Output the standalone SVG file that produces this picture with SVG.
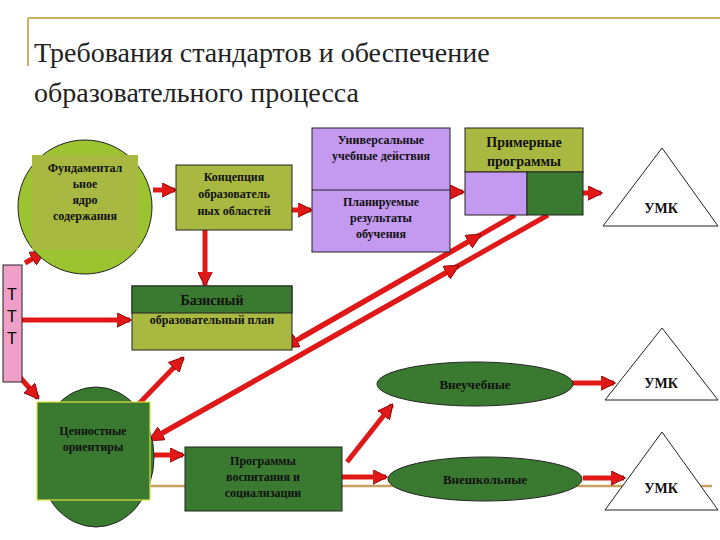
<svg xmlns="http://www.w3.org/2000/svg" width="720" height="540" viewBox="0 0 720 540">
<defs>
<marker id="ah" viewBox="0 0 10 10" refX="9" refY="5" markerWidth="3" markerHeight="3" orient="auto" markerUnits="strokeWidth"><path d="M0,0 L10,5 L0,10 z" fill="#e01818" stroke="#8a0000" stroke-width="0.6"/></marker>
</defs>
<style>
.a{stroke:#e01818;stroke-width:5;fill:none;marker-end:url(#ah)}
.t{font-family:'Liberation Serif','DejaVu Serif',serif;font-weight:bold;font-size:12px;fill:#111;text-anchor:middle}
.h{font-family:'Liberation Serif','DejaVu Serif',serif;font-size:28px;fill:#222}
.b{stroke:#222;stroke-width:1}
</style>
<rect width="720" height="540" fill="#fff"/>
<g id="frame" stroke="#c8b060" stroke-width="2" fill="none">
<line x1="28" y1="18" x2="720" y2="18"/><line x1="28" y1="18" x2="28" y2="66"/>
<line x1="135" y1="486" x2="712" y2="486" stroke="#c8a060" stroke-width="2.5"/>
</g>
<g id="title"><text class="h" x="34" y="62">Требования стандартов и обеспечение</text><text class="h" x="34" y="102">образовательного процесса</text></g>
<g id="connectors">
<line class="a" x1="153" y1="190" x2="175" y2="190"/>
<line class="a" x1="292" y1="210" x2="311" y2="210"/>
<line class="a" x1="205" y1="230" x2="205" y2="285"/>
<line class="a" x1="437" y1="192" x2="463" y2="192"/>
<line class="a" x1="583" y1="193" x2="601" y2="193"/>
<line class="a" x1="25" y1="263" x2="44" y2="252"/>
<line class="a" x1="22" y1="320" x2="130" y2="320"/>
<line class="a" x1="18" y1="375" x2="38" y2="398"/>
<line class="a" x1="515" y1="215" x2="285" y2="347"/>
<line class="a" x1="300" y1="338" x2="480" y2="235"/>
<line class="a" x1="548" y1="215" x2="150" y2="440"/>
<line class="a" x1="150" y1="440" x2="458" y2="266"/>
<line class="a" x1="130" y1="413" x2="183" y2="358"/>
<line class="a" x1="152" y1="455" x2="183" y2="455"/>
<line class="a" x1="347" y1="462" x2="392" y2="405"/>
<line class="a" x1="342" y1="477" x2="386" y2="477"/>
<line class="a" x1="572" y1="383" x2="614" y2="383"/>
<line class="a" x1="583" y1="478" x2="624" y2="478"/>
</g>
<g id="fund"><circle cx="85" cy="207" r="67" fill="#9bc430" class="b"/><rect x="32" y="155" width="106" height="95" fill="#a8b840"/>
<text class="t" x="85" y="172">Фундаментал</text><text class="t" x="85" y="188">ьное</text><text class="t" x="85" y="204">ядро</text><text class="t" x="85" y="220">содержания</text></g>
<g id="konc"><rect x="176" y="165" width="116" height="65" fill="#a8b840" class="b"/>
<text class="t" x="234" y="181">Концепция</text><text class="t" x="234" y="198">образователь</text><text class="t" x="234" y="215">ных областей</text></g>
<g id="uud"><rect x="312" y="128" width="138" height="124" fill="#c49af0" class="b"/><line x1="312" y1="190" x2="450" y2="190" class="b"/>
<text class="t" x="381" y="144">Универсальные</text><text class="t" x="381" y="160">учебные действия</text>
<text class="t" x="381" y="206">Планируемые</text><text class="t" x="381" y="222">результаты</text><text class="t" x="381" y="238">обучения</text></g>
<g id="prim"><rect x="465" y="128" width="118" height="44" fill="#a8b840" class="b"/><rect x="465" y="172" width="62" height="43" fill="#c49af0" class="b"/><rect x="527" y="172" width="56" height="43" fill="#3a7a30" class="b"/>
<text class="t" x="524" y="147" style="font-size:14px">Примерные</text><text class="t" x="524" y="166" style="font-size:14px">программы</text></g>
<g id="umk1"><polygon points="662,148 603,226 718,226" fill="#fff" class="b"/><text class="t" x="661" y="213" style="font-size:14px">УМК</text></g>
<g id="ttt"><rect x="3" y="265" width="19" height="117" fill="#f0a0c8" class="b"/><text x="12" y="300" style="font-family:'Liberation Sans',sans-serif;font-size:16px;text-anchor:middle">Т</text><text x="12" y="322" style="font-family:'Liberation Sans',sans-serif;font-size:16px;text-anchor:middle">Т</text><text x="12" y="344" style="font-family:'Liberation Sans',sans-serif;font-size:16px;text-anchor:middle">Т</text></g>
<g id="baz"><rect x="132" y="286" width="160" height="64" fill="#a8b840" class="b"/><rect x="132" y="286" width="160" height="27" fill="#3a7a30" class="b"/>
<text class="t" x="212" y="305" style="font-size:14px">Базисный</text><text class="t" x="212" y="324">образовательный план</text></g>
<g id="umk2"><polygon points="662,328 605,400 718,400" fill="#fff" class="b"/><text class="t" x="661" y="388" style="font-size:14px">УМК</text></g>
<g id="vneuch"><ellipse cx="475" cy="384" rx="98" ry="22" fill="#3a7a30" class="b"/><text class="t" x="475" y="389" style="font-size:13px">Внеучебные</text></g>
<g id="cenn"><ellipse cx="96" cy="457" rx="58" ry="70" fill="#3a7a30" class="b"/><rect x="37" y="402" width="113" height="98" fill="#3a7a30" stroke="#e0e040" stroke-width="1.2"/>
<text class="t" x="93" y="435">Ценностные</text><text class="t" x="93" y="451">ориентиры</text></g>
<g id="prog"><rect x="185" y="447" width="157" height="64" fill="#3a7a30" class="b"/>
<text class="t" x="263" y="465">Программы</text><text class="t" x="263" y="481">воспитания и</text><text class="t" x="263" y="497">социализации</text></g>
<g id="vneshk"><ellipse cx="485" cy="479" rx="97" ry="22" fill="#3a7a30" class="b"/><text class="t" x="485" y="484" style="font-size:13px">Внешкольные</text></g>
<g id="umk3"><polygon points="662,432 605,510 718,510" fill="#fff" class="b"/><text class="t" x="661" y="493" style="font-size:14px">УМК</text></g>
</svg>
